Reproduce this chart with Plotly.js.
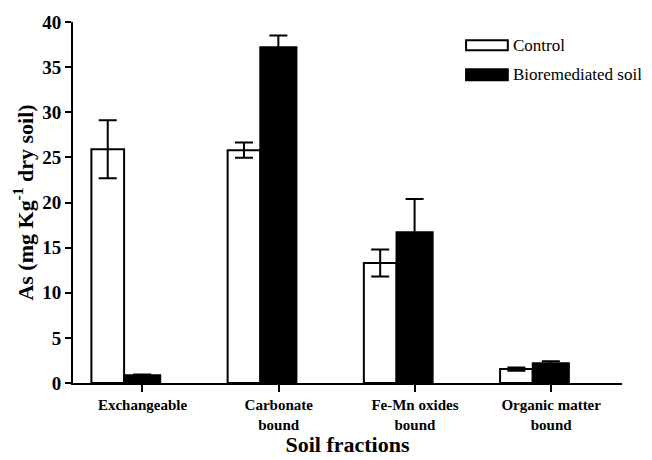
<!DOCTYPE html>
<html>
<head>
<meta charset="utf-8">
<script src="https://cdn.plot.ly/plotly-3.0.1.min.js"></script>
<style>html,body{margin:0;padding:0;background:#fff;}#chart{width:652px;height:460px;}</style>
</head>
<body>
<div id="chart"></div>
<script>
// Data
const categories = ["Exchangeable", "Carbonate bound", "Fe-Mn oxides bound", "Organic matter bound"];
const tickLabels = ["Exchangeable", "Carbonate<br>bound", "Fe-Mn oxides<br>bound", "Organic matter<br>bound"];
const controlValues = [25.9, 25.8, 13.3, 1.55];
const controlErrors = [3.2, 0.85, 1.5, 0.18];
const bioValues = [0.85, 37.2, 16.7, 2.2];
const bioErrors = [0.1, 1.3, 3.7, 0.22];
const seriesNames = ["Control", "Bioremediated soil"];

const serif = "'Liberation Serif', 'Times New Roman', Times, serif";

const traces = [
  {
    type: "bar", name: seriesNames[0], x: categories, y: controlValues,
    offset: -0.375, width: 0.24,
    marker: {color: "#ffffff", line: {color: "#000000", width: 2}},
    error_y: {type: "data", array: controlErrors, visible: true, color: "#000000", thickness: 2, width: 9},
    showlegend: false
  },
  {
    type: "bar", name: seriesNames[1], x: categories, y: bioValues,
    offset: -0.135, width: 0.265,
    marker: {color: "#000000", line: {color: "#000000", width: 2}},
    error_y: {type: "data", array: bioErrors, visible: true, color: "#000000", thickness: 2, width: 9},
    showlegend: false
  }
];

const layout = {
  width: 652, height: 460,
  margin: {l: 73, r: 30, t: 22, b: 77},
  paper_bgcolor: "#ffffff", plot_bgcolor: "#ffffff",
  barmode: "overlay",
  showlegend: false,
  font: {family: serif, color: "#000000"},
  xaxis: {
    type: "category", range: [-0.51, 3.52],
    tickvals: categories, ticktext: tickLabels,
    showline: true, linecolor: "#000000", linewidth: 2,
    ticks: "outside", ticklen: 7, tickwidth: 2, tickcolor: "#000000",
    showgrid: false, zeroline: false,
    tickfont: {family: serif, size: 15, weight: "bold", color: "#000000"},
    title: {text: "Soil fractions", font: {family: serif, size: 22, weight: "bold", color: "#000000"}, standoff: 5}
  },
  yaxis: {
    range: [0, 40], dtick: 5, tick0: 0,
    showline: true, linecolor: "#000000", linewidth: 2,
    ticks: "outside", ticklen: 6, tickwidth: 2, tickcolor: "#000000",
    showgrid: false, zeroline: false,
    tickfont: {family: serif, size: 19, weight: "bold", color: "#000000"},
    title: {text: "As (mg Kg<sup>-1</sup> dry soil)", font: {family: serif, size: 22, weight: "bold", color: "#000000"}, standoff: 3}
  },
  shapes: [
    {type: "rect", xref: "paper", yref: "paper", x0: 0.716, x1: 0.792, y0: 0.9217, y1: 0.9494,
     fillcolor: "#ffffff", line: {color: "#000000", width: 2}},
    {type: "rect", xref: "paper", yref: "paper", x0: 0.716, x1: 0.792, y0: 0.8388, y1: 0.8692,
     fillcolor: "#000000", line: {color: "#000000", width: 2}}
  ],
  annotations: [
    {xref: "paper", yref: "paper", x: 0.797, y: 0.9356, xanchor: "left", yanchor: "middle",
     text: seriesNames[0], showarrow: false, font: {family: serif, size: 17, color: "#000000"}},
    {xref: "paper", yref: "paper", x: 0.797, y: 0.8540, xanchor: "left", yanchor: "middle",
     text: seriesNames[1], showarrow: false, font: {family: serif, size: 17, color: "#000000"}}
  ]
};

Plotly.newPlot("chart", traces, layout, {displayModeBar: false, staticPlot: true});
</script>
</body>
</html>
